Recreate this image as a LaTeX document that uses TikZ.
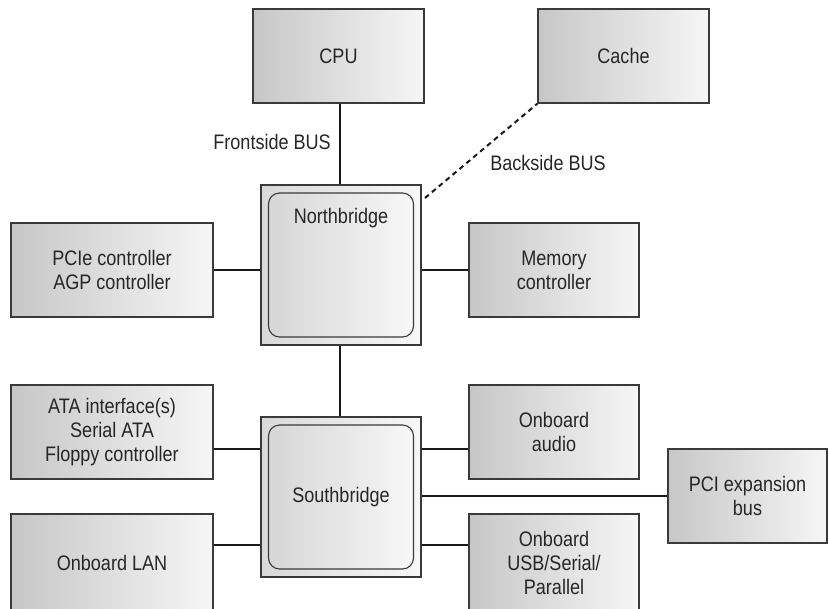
\documentclass[tikz,border=0pt]{standalone}
\usepackage{fontspec}
\setmainfont{Liberation Sans}[FakeStretch=0.86]
\definecolor{boxline}{HTML}{3A3A3A}
\definecolor{txt}{HTML}{262626}
\begin{document}
\begin{tikzpicture}[x=1pt,y=-1pt,
  every node/.style={font=\fontsize{21}{24}\selectfont, text=txt},
  blk/.style={draw=boxline, line width=1.3pt, left color=gray!44, right color=gray!7,
    minimum width=#1, minimum height=94pt, inner sep=0pt, align=center},
  blk/.default=170pt,
  tall/.style={minimum height=98pt},
  chipout/.style={draw=boxline, line width=1.3pt, left color=gray!30, right color=gray!6,
    minimum width=160pt, minimum height=160pt, inner sep=0pt},
  chipin/.style={draw=boxline, line width=1.1pt, rounded corners=11pt, left color=gray!32, right color=gray!6,
    minimum width=145pt, minimum height=144pt, inner sep=0pt},
  wire/.style={draw=black!90, line width=2pt},
  dashwire/.style={draw=black!90, line width=2pt, dash pattern=on 5pt off 4pt},
  lbl/.style={inner sep=0pt}]
\useasboundingbox (0,0) rectangle (829,608);

% boxes
\node[blk=171pt] (cpu) at (338.5,56) {CPU};
\node[blk=171pt] (cache) at (623.5,56) {Cache};
\node[blk=202pt] (pcie) at (112,270) {PCIe controller\\AGP controller};
\node[blk=170pt] (mem) at (554,270) {Memory\\controller};
\node[blk=202pt] (ata) at (112,432) {ATA interface(s)\\Serial ATA\\Floppy controller};
\node[blk=170pt] (audio) at (554,432) {Onboard\\audio};
\node[blk=159pt] (pci) at (747.5,496) {PCI expansion\\bus};
\node[blk=202pt, tall] (lan) at (112,563) {Onboard LAN};
\node[blk=170pt, tall] (usb) at (554,563) {Onboard\\USB/Serial/\\Parallel};

% chips
\node[chipout] (nb) at (341,265) {};
\node[chipin] (nbin) at (341,265) {};
\node[lbl] (nbt) at (341,218) {Northbridge};
\node[chipout] (sb) at (341,497) {};
\node[chipin] (sbin) at (341,497) {};
\node[lbl] (sbt) at (341,497) {Southbridge};

% bus labels
\node[lbl, anchor=east] (fsb) at (331,142) {Frontside BUS};
\node[lbl] (bsb) at (548,163) {Backside BUS};

% helper coordinates
\coordinate (bs) at (425,198);
\coordinate (yA) at (0,449);
\coordinate (yB) at (0,496);
\coordinate (yC) at (0,545);
\coordinate (xm) at (340,0);

% connectors
\draw[wire] (xm |- cpu.south) -- (xm |- nb.north);
\draw[wire] (xm |- nb.south) -- (xm |- sb.north);
\draw[dashwire] (bs) -- (cache.south west);
\draw[wire] (pcie.east) -- (pcie.east -| nb.west);
\draw[wire] (nb.east |- mem.west) -- (mem.west);
\draw[wire] (ata.east |- yA) -- (sb.west |- yA);
\draw[wire] (lan.east |- yC) -- (sb.west |- yC);
\draw[wire] (sb.east |- yA) -- (audio.west |- yA);
\draw[wire] (sb.east |- yB) -- (pci.west |- yB);
\draw[wire] (sb.east |- yC) -- (usb.west |- yC);
\end{tikzpicture}
\end{document}
